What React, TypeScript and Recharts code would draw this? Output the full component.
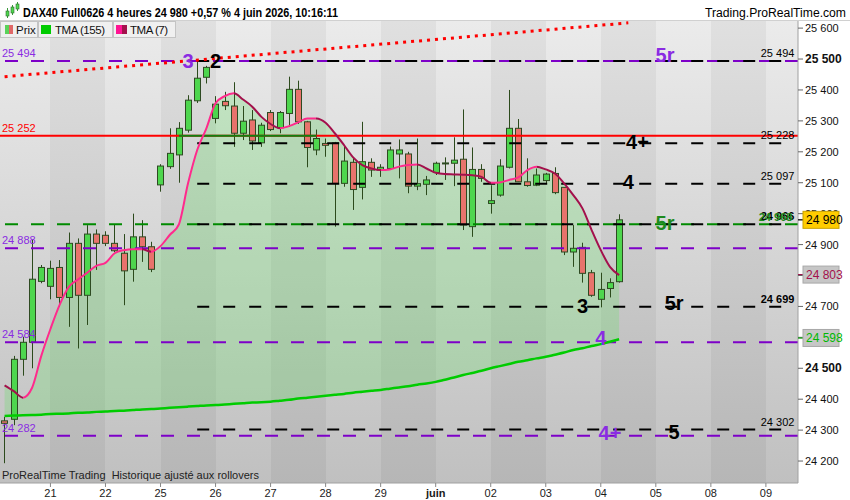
import React from 'react'
import {
  ComposedChart,
  Bar,
  Line,
  Area,
  XAxis,
  YAxis,
  CartesianGrid,
  ReferenceLine,
  ReferenceDot
} from 'recharts'

const FONT = '"Liberation Sans", Arial, sans-serif'

// 4h candles, 20 May -> 4 June
const opens = [
  24330, 24335, 24529, 24584, 24781, 24765, 24826, 24729, 24904, 24736,
  24934, 24930, 24904, 24872, 24820, 24925, 24893, 25093, 25152, 25190,
  25270, 25365, 25441, 25308, 25363, 25348, 25260, 25303, 25229, 25327,
  25278, 25324, 25402, 25297, 25206, 25227, 25229, 25098, 25166, 25085,
  25166, 25141, 25146, 25193, 25193, 25089, 25095, 25133, 25162, 25163,
  25176, 24958, 25143, 25033, 25060, 25150, 25276, 25103, 25092, 25107,
  25130, 25085, 24876, 24891, 24809, 24723, 24758, 24780
]
const highs = [
  24343, 24540, 24602, 24915, 24834, 24848, 24850, 24939, 24920, 24963,
  24949, 24943, 24965, 24934, 25000, 24979, 24909, 25160, 25276, 25296,
  25383, 25497, 25478, 25380, 25394, 25425, 25348, 25335, 25294, 25335,
  25332, 25443, 25430, 25300, 25272, 25243, 25232, 25222, 25181, 25297,
  25179, 25160, 25217, 25240, 25200, 25243, 25122, 25168, 25182, 25247,
  25337, 25214, 25160, 25092, 25176, 25400, 25306, 25179, 25146, 25132,
  25150, 25085, 24963, 24906, 24818, 24809, 24791, 24998
]
const lows = [
  24193, 24316, 24476, 24500, 24775, 24723, 24699, 24634, 24564, 24640,
  24818, 24895, 24875, 24704, 24780, 24844, 24811, 25071, 25145, 25100,
  25262, 25358, 25421, 25292, 25335, 25216, 25238, 25206, 25216, 25267,
  25260, 25281, 25290, 25150, 25189, 25184, 24958, 25087, 25012, 25046,
  25119, 25119, 25143, 25114, 25066, 25076, 25060, 25125, 25109, 25089,
  24947, 24925, 25103, 25000, 25055, 25146, 25103, 25087, 25089, 25098,
  25063, 24866, 24828, 24777, 24731, 24697, 24729, 24777
]
const closes = [
  24322, 24529, 24584, 24788, 24826, 24823, 24729, 24904, 24736, 24934,
  24904, 24904, 24880, 24815, 24925, 24893, 24820, 25154, 25195, 25276,
  25367, 25438, 25473, 25354, 25349, 25260, 25299, 25235, 25286, 25272,
  25327, 25402, 25297, 25214, 25243, 25221, 25098, 25170, 25078, 25168,
  25141, 25150, 25206, 25206, 25089, 25097, 25109, 25163, 25164, 25173,
  24963, 25143, 25114, 25042, 25154, 25276, 25103, 25091, 25125, 25128,
  25068, 24876, 24888, 24807, 24736, 24755, 24777, 24980
]
const tma7 = [
  24445, 24426, 24405, 24437, 24540, 24627, 24705, 24763, 24787, 24809,
  24831, 24841, 24872, 24882, 24885, 24885, 24877, 24895, 24931, 24965,
  25098, 25206, 25276, 25357, 25380, 25389, 25369, 25346, 25313, 25290,
  25276, 25283, 25295, 25308, 25308, 25294, 25260, 25222, 25182, 25157,
  25146, 25141, 25143, 25152, 25157, 25159, 25146, 25132, 25128, 25127,
  25126, 25124, 25119, 25100, 25101, 25109, 25117, 25141, 25152, 25143,
  25130, 25098, 25060, 25017, 24947, 24882, 24828, 24801
]
const tma155 = [
  24346, 24347, 24348, 24349, 24350, 24352, 24353, 24354, 24356, 24357,
  24359, 24360, 24362, 24363, 24365, 24367, 24368, 24370, 24372, 24374,
  24376, 24378, 24380, 24381, 24383, 24385, 24387, 24389, 24390, 24392,
  24395, 24398, 24402, 24405, 24408, 24411, 24414, 24417, 24421, 24424,
  24427, 24430, 24434, 24438, 24442, 24447, 24451, 24456, 24463, 24470,
  24478, 24485, 24492, 24500, 24507, 24514, 24521, 24526, 24532, 24537,
  24544, 24551, 24559, 24565, 24572, 24578, 24586, 24594
]

// x axis: first bar of each day, and future days
const dayLabels = ['21', '22', '25', '26', '27', '28', '29', 'juin', '02', '03', '04', '05', '08', '09']
const dayStarts = [5, 11, 17, 23, 29, 35, 41, 47, 53, 59, 65, 71, 77, 83]
const slotCount = 87

const yTicks = [24200, 24300, 24400, 24500, 24600, 24700, 24800, 24900, 25000, 25100, 25200, 25300, 25400, 25500, 25600]
const hiddenTicks = [24600, 24800]
const lastClose = 24980
const lastTma7 = 24803
const lastTma155 = 24598

// horizontal levels
const purpleLevels = [25494, 24888, 24584, 24282]
const blackLevels = [25494, 25228, 25097, 24966, 24699, 24302]
const boldBlack = [24966, 24699]
const redLevel = 25252
const greenLevel = 24966
const trendStart = { x: 0, y: 25443 }
const trendEnd = { x: 68, y: 25617 }

// wave count annotations
const waveText = ['3', '2', '5r', '4+', '4', '5r', '3', '5r', '4', '4+', '5']
const waveX = [20, 23, 72, 69, 68, 72, 63, 73, 65, 66, 73]
const waveY = [25494, 25494, 25513, 25232, 25103, 24970, 24702, 24710, 24597, 24290, 24295]
const waveKind = ['p', 'k', 'p', 'k', 'k', 'g', 'k', 'k', 'p', 'p', 'k']

const PURPLE = '#7d00c8'
const GREEN_DASH = '#008a00'
const PINK = '#ff2a8c'
const MAROON = '#a3104c'
const kindColor: Record<string, string> = { p: '#8a2be2', k: '#000', g: '#1e8a1e' }

const fmt = (v: number) => `${Math.floor(v / 1000)} ${String(v % 1000).padStart(3, '0')}`

const rows = Array.from({ length: slotCount }, (_, i) =>
  i < opens.length
    ? {
        i,
        o: opens[i],
        h: highs[i],
        l: lows[i],
        c: closes[i],
        range: [lows[i], highs[i]],
        t7: tma7[i],
        t155: tma155[i],
        band: [tma155[i], tma7[i]]
      }
    : { i }
)

const Candle = (props: any) => {
  const { x, y, width, height, payload } = props
  if (payload == null || payload.o == null) return null
  const { o, h, l, c } = payload
  const top = Math.min(y, y + height)
  const span = Math.abs(height)
  const py = (v: number) => top + ((h - v) / (h - l || 1)) * span
  const cx = Math.round(x + width / 2) + 0.5
  const up = c >= o
  const bTop = py(Math.max(o, c))
  const bBot = py(Math.min(o, c))
  return (
    <g>
      <line x1={cx} x2={cx} y1={top} y2={top + span} stroke="#2c4a1c" strokeWidth={1} />
      <rect
        x={cx - 3}
        y={bTop}
        width={6}
        height={Math.max(bBot - bTop, 1)}
        fill={up ? '#4ed64e' : '#e8736c'}
        stroke="#2e4a22"
        strokeWidth={1}
      />
    </g>
  )
}

const XTick = (p: any) => {
  const k = dayStarts.indexOf(p.payload.value)
  const label = k >= 0 ? dayLabels[k] : ''
  return (
    <text x={p.x} y={p.y + 8} textAnchor="middle" fontSize={11} fontFamily={FONT}
      fontWeight={label === 'juin' ? 'bold' : 'normal'} fill="#1a1a1a">
      {label}
    </text>
  )
}

const badgeStyle: Record<number, { bg: string; fg: string; bd: string }> = {
  [lastClose]: { bg: '#ffcc00', fg: '#000', bd: '#c9a100' },
  [lastTma7]: { bg: '#c6c6c6', fg: MAROON, bd: '#a8a8a8' },
  [lastTma155]: { bg: '#c6c6c6', fg: '#00b800', bd: '#a8a8a8' }
}

const YTick = (p: any) => {
  const v = p.payload.value
  const b = badgeStyle[v]
  if (b) {
    return (
      <g>
        <line x1={p.x - 7} x2={p.x - 2} y1={p.y} y2={p.y} stroke={b.fg} />
        <rect x={p.x - 2} y={p.y - 8.5} width={36} height={17} fill={b.bg} stroke={b.bd} />
        <text x={p.x + 1} y={p.y + 4.5} fontSize={12} fontFamily={FONT} fill={b.fg}>{fmt(v)}</text>
      </g>
    )
  }
  // labels sitting under a price badge are not visible in the original
  if (hiddenTicks.includes(v)) return <g />
  const bold = v === 25500 || v === 24500
  return (
    <text x={p.x} y={p.y + 4} fontSize={bold ? 12 : 11} fontWeight={bold ? 'bold' : 'normal'}
      fontFamily={FONT} fill="#111">
      {fmt(v)}
    </text>
  )
}

const leftLabel = (text: string, color: string) => (p: any) => (
  <text x={p.viewBox.x + 2} y={p.viewBox.y - 4} fontSize={11} fontFamily={FONT} fill={color}>
    {text}
  </text>
)

const rightLabel = (text: string, bold: boolean) => (p: any) => (
  <text x={p.viewBox.x + p.viewBox.width + 1} y={p.viewBox.y - 4} textAnchor="end" fontSize={11}
    fontWeight={bold ? 'bold' : 'normal'} fontFamily={FONT} fill="#000">
    {text}
  </text>
)

const waveLabel = (text: string, color: string) => (p: any) => (
  <text x={p.viewBox.x + p.viewBox.width / 2} y={p.viewBox.y + p.viewBox.height / 2}
    textAnchor="middle" dominantBaseline="central" fontSize={20} fontWeight="bold"
    fontFamily={FONT} fill={color}>
    {text}
  </text>
)

export default function App() {
  const n = tma7.length
  const tmaStops: React.ReactNode[] = []
  for (let k = 0; k < n - 1; k++) {
    const col = tma7[k + 1] >= tma7[k] ? PINK : MAROON
    tmaStops.push(<stop key={`a${k}`} offset={k / (n - 1)} stopColor={col} />)
    tmaStops.push(<stop key={`b${k}`} offset={(k + 1) / (n - 1)} stopColor={col} />)
  }

  return (
    <div style={{ position: 'absolute', left: 0, top: 0, width: 850, height: 500, background: '#fff', fontFamily: FONT }}>
      <ComposedChart width={850} height={500} data={rows} margin={{ top: 21, right: 0, bottom: 0, left: 0 }}>
        <defs>
          <linearGradient id="bgL" x1="0" y1="0" x2="0" y2="1">
            <stop offset="0%" stopColor="#ebebeb" />
            <stop offset="100%" stopColor="#c0c0c0" />
          </linearGradient>
          <linearGradient id="bgD" x1="0" y1="0" x2="0" y2="1">
            <stop offset="0%" stopColor="#e0e0e0" />
            <stop offset="100%" stopColor="#b6b6b6" />
          </linearGradient>
          <linearGradient id="tma7grad" x1="0" y1="0" x2="1" y2="0">
            {tmaStops}
          </linearGradient>
        </defs>
        <CartesianGrid horizontal={false} vertical stroke="none" fillOpacity={1}
          verticalFill={['url(#bgL)', 'url(#bgD)']} />
        <XAxis dataKey="i" type="category" ticks={dayStarts} interval={0} height={17}
          tick={<XTick />} tickSize={4} tickLine={{ stroke: '#888' }} axisLine={{ stroke: '#a0a0a0' }} />
        <YAxis orientation="right" width={52} domain={[24129, 25623]} allowDataOverflow
          ticks={[...yTicks, lastClose, lastTma7, lastTma155]} interval={0}
          tick={<YTick />} tickSize={5} tickMargin={2} tickLine={{ stroke: '#666' }} axisLine={{ stroke: '#a0a0a0' }} />

        <Area dataKey="band" type="monotone" stroke="none" fill="#64e064" fillOpacity={0.28}
          isAnimationActive={false} />

        {purpleLevels.map((v) => (
          <ReferenceLine key={`p${v}`} y={v} stroke={PURPLE} strokeWidth={2} strokeDasharray="13 13"
            label={leftLabel(fmt(v), '#8a2be2')} />
        ))}
        <ReferenceLine y={greenLevel} stroke={GREEN_DASH} strokeWidth={2} strokeDasharray="13 13" />
        <ReferenceLine y={redLevel} stroke="#ff0000" strokeWidth={2} label={leftLabel(fmt(redLevel), '#ff0000')} />
        <ReferenceLine segment={[{ x: 19, y: redLevel }, { x: 34, y: redLevel }]} stroke="#108010" strokeWidth={2} />
        {blackLevels.map((v) => (
          <ReferenceLine key={`k${v}`} segment={[{ x: 21, y: v }, { x: 86, y: v }]} stroke="#000"
            strokeWidth={2} strokeDasharray="12 14"
            label={rightLabel(fmt(v), boldBlack.includes(v))} />
        ))}
        <ReferenceLine segment={[{ x: 21, y: greenLevel }, { x: 86, y: greenLevel }]} stroke="none"
          label={(p: any) => (
            <text x={p.viewBox.x + p.viewBox.width - 1} y={p.viewBox.y - 3} textAnchor="end" fontSize={11}
              fontWeight="bold" fontFamily={FONT} fill="#1e8a1e">
              {fmt(greenLevel + 2)}
            </text>
          )} />
        <ReferenceLine segment={[trendStart, trendEnd]} stroke="#ff0000" strokeWidth={3} strokeDasharray="3 5" />

        <Bar dataKey="range" shape={<Candle />} isAnimationActive={false} />
        <Line dataKey="t155" type="monotone" stroke="#00cc00" strokeWidth={2.5} dot={false}
          activeDot={false} isAnimationActive={false} />
        <Line dataKey="t7" type="monotone" stroke="url(#tma7grad)" strokeWidth={2} dot={false}
          activeDot={false} isAnimationActive={false} />

        {waveText.map((t, k) => (
          <ReferenceDot key={`w${k}`} x={waveX[k]} y={waveY[k]} r={0} fill="none" stroke="none"
            label={waveLabel(t, kindColor[waveKind[k]])} />
        ))}
      </ComposedChart>

      <svg width={850} height={21} style={{ position: 'absolute', left: 0, top: 0 }}>
        <rect x={0} y={0} width={850} height={21} fill="#fff" />
        <line x1={0} x2={850} y1={20.5} y2={20.5} stroke="#d0d0d0" />
        <line x1={7.5} x2={7.5} y1={8} y2={18} stroke="#3a9a3a" />
        <rect x={6} y={11} width={3} height={5} fill="#4ed64e" stroke="#2c6a2c" strokeWidth={0.6} />
        <line x1={12.5} x2={12.5} y1={5} y2={15} stroke="#3a9a3a" />
        <rect x={11} y={7} width={3} height={6} fill="#4ed64e" stroke="#2c6a2c" strokeWidth={0.6} />
        <line x1={17.5} x2={17.5} y1={2} y2={11} stroke="#3a9a3a" />
        <rect x={16} y={4} width={3} height={5} fill="#4ed64e" stroke="#2c6a2c" strokeWidth={0.6} />
        <text x={23} y={17} fontSize={12} fontWeight="bold" fontFamily={FONT} fill="#000"
          textLength={315} lengthAdjust="spacingAndGlyphs">
          DAX40 Full0626 4 heures 24 980 +0,57 % 4 juin 2026, 10:16:11
        </text>
        <text x={705} y={17} fontSize={12} fontFamily={FONT} fill="#000" textLength={141}
          lengthAdjust="spacingAndGlyphs">
          Trading.ProRealTime.com
        </text>
      </svg>

      <svg width={180} height={18} style={{ position: 'absolute', left: 0, top: 21 }}>
        <rect x={0.5} y={0.5} width={37} height={16} fill="#f0f0f0" stroke="#c4c4c4" />
        <rect x={5} y={4} width={4} height={9} fill="#5ad35a" />
        <rect x={9} y={4} width={4} height={9} fill="#e06868" />
        <text x={16} y={13} fontSize={11.5} fontFamily={FONT} fill="#111">Prix</text>
        <rect x={38.5} y={0.5} width={74} height={16} fill="#f0f0f0" stroke="#c4c4c4" />
        <rect x={41} y={4} width={10} height={9} fill="#00cc00" />
        <text x={55} y={13} fontSize={11.5} fontFamily={FONT} fill="#111" textLength={50}>TMA (155)</text>
        <rect x={113.5} y={0.5} width={62} height={16} fill="#f0f0f0" stroke="#c4c4c4" />
        <rect x={116} y={4} width={6} height={9} fill="#ff1493" />
        <rect x={122} y={4} width={5} height={9} fill={MAROON} />
        <text x={130} y={13} fontSize={11.5} fontFamily={FONT} fill="#111" textLength={38}>TMA (7)</text>
      </svg>

      <div style={{ position: 'absolute', left: 2, top: 468, fontSize: 11, lineHeight: '14px', color: '#222', whiteSpace: 'pre', fontFamily: FONT }}>
        ProRealTime Trading  Historique ajusté aux rollovers
      </div>
    </div>
  )
}
